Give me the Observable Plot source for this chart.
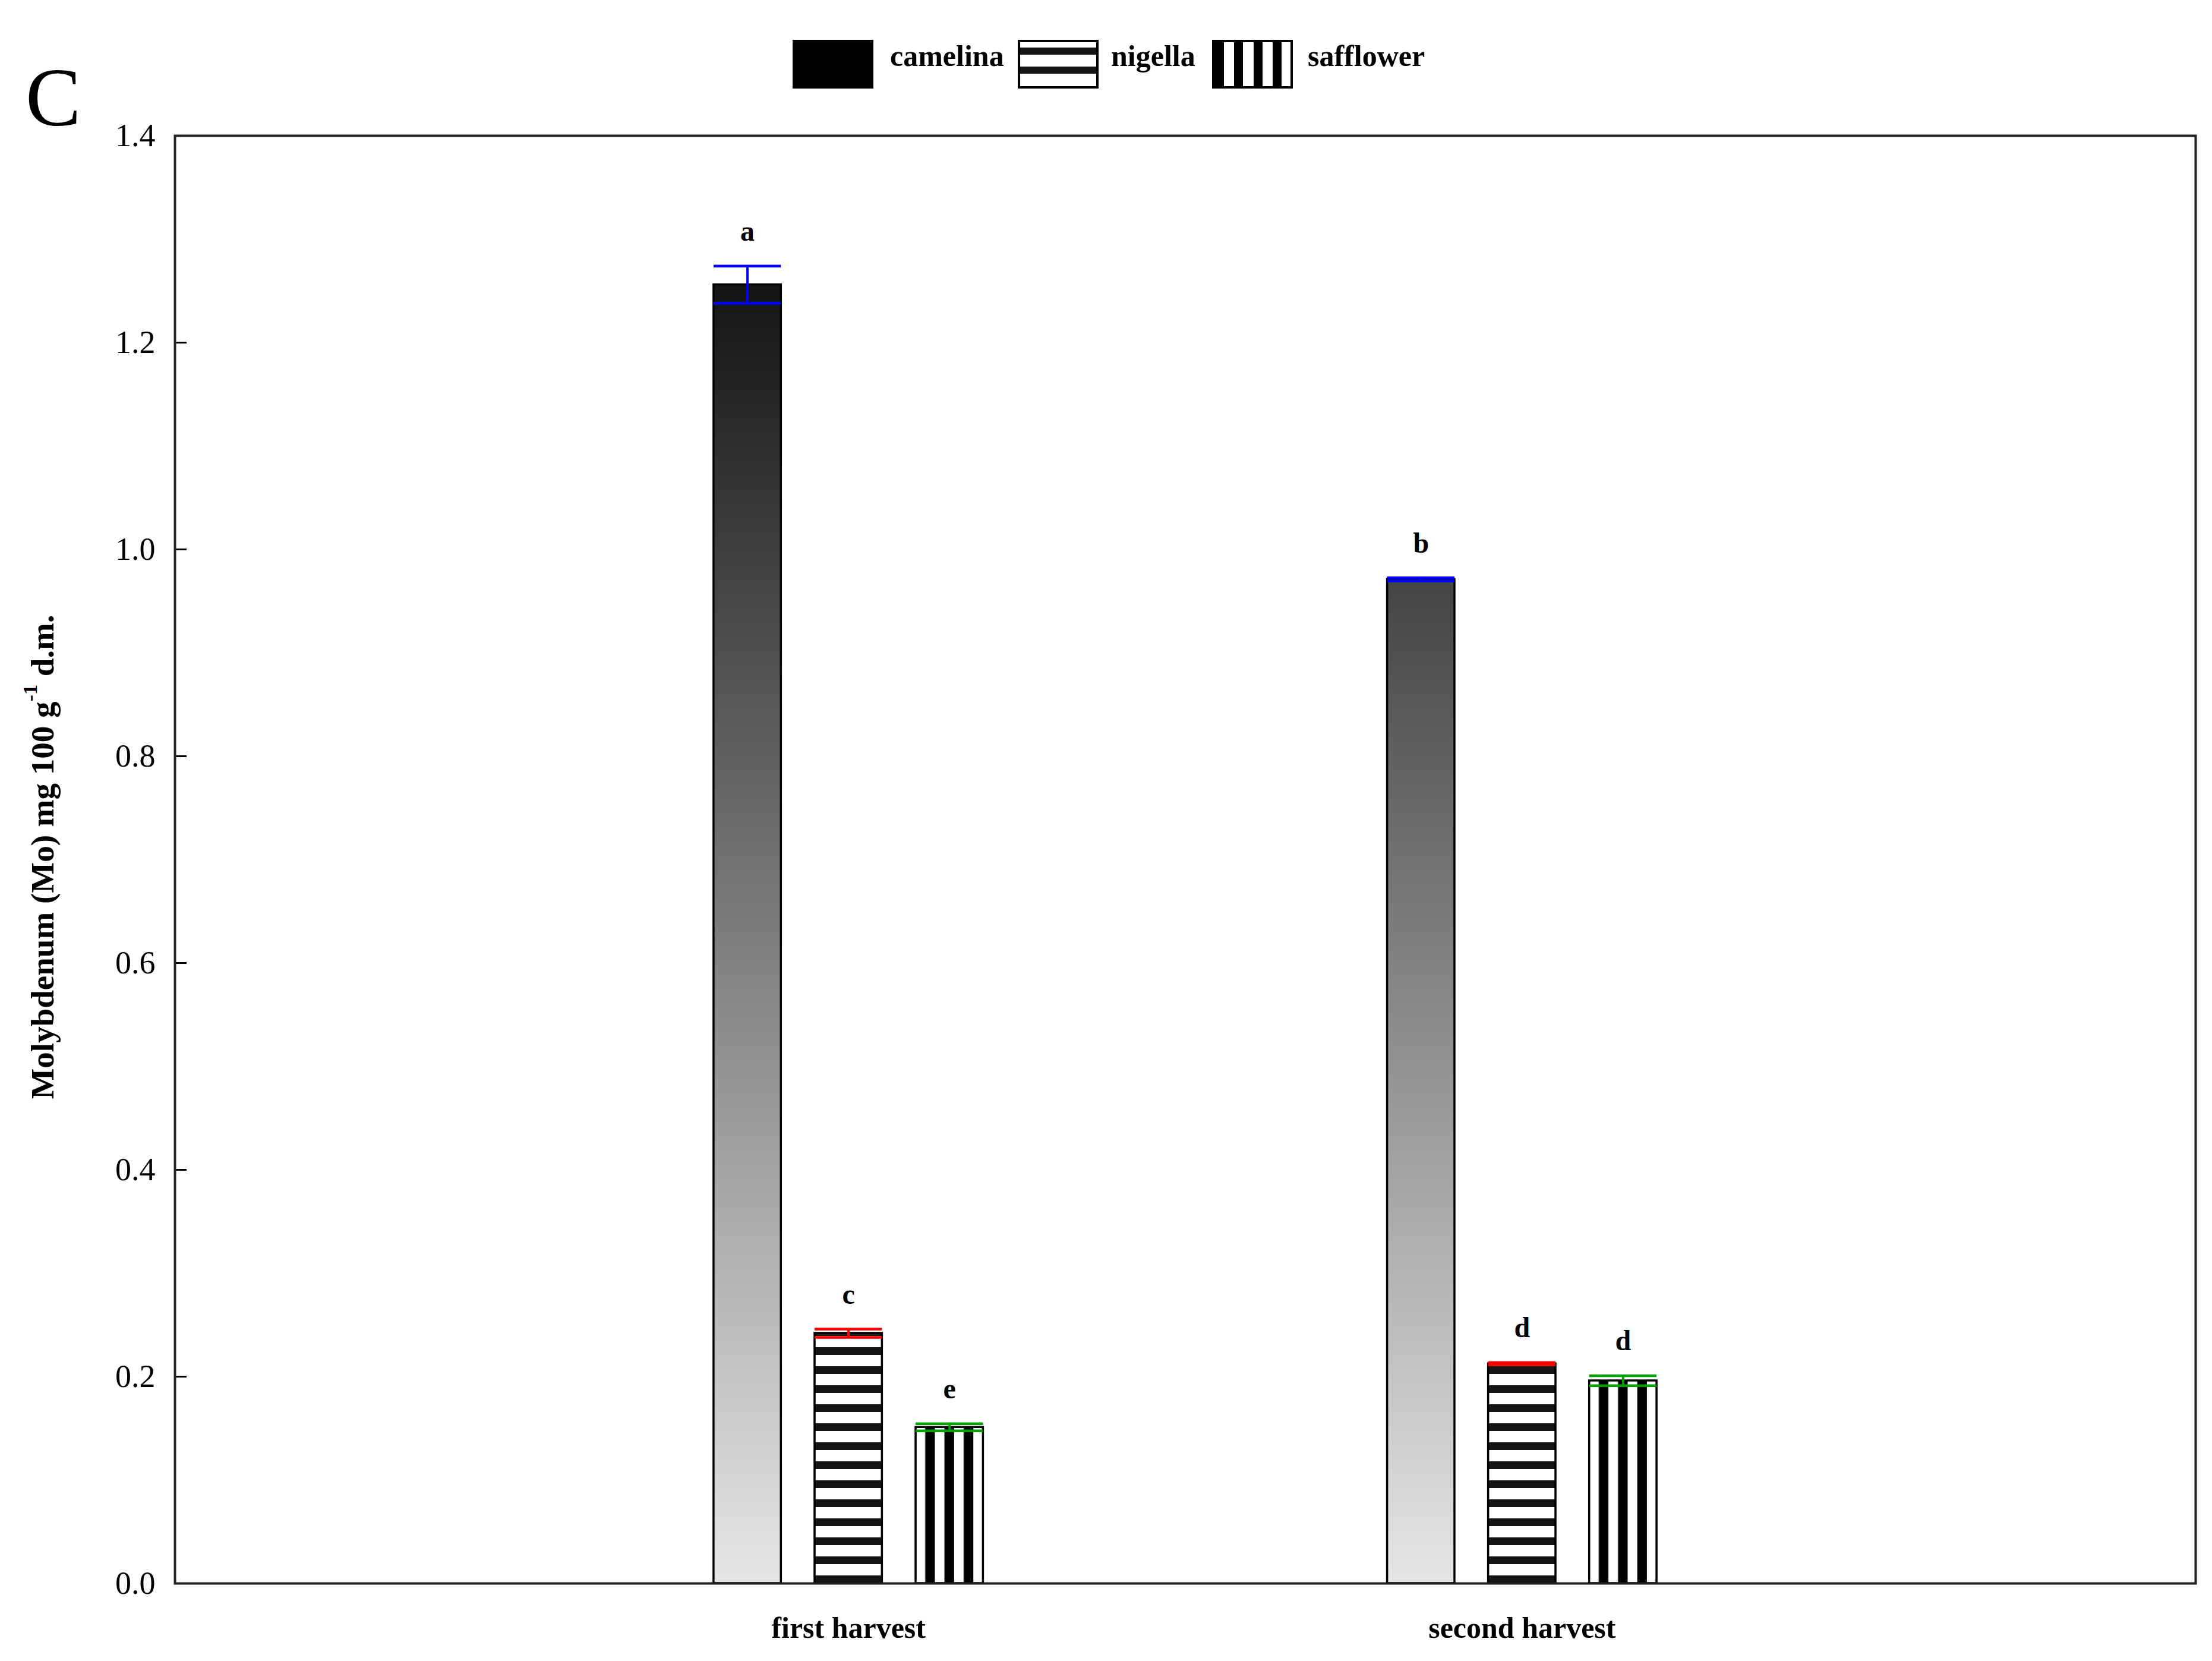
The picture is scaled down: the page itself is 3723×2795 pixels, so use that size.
<!DOCTYPE html>
<html>
<head>
<meta charset="utf-8">
<script src="https://cdn.jsdelivr.net/npm/d3@7"></script>
<script src="https://cdn.jsdelivr.net/npm/@observablehq/plot@0.6"></script>
<style>
  html, body { margin: 0; padding: 0; background: #fff; }
  svg { display: block; }
</style>
</head>
<body>
<div id="chart"></div>
<script>
// ---------------- data ----------------
const harvests = ["first harvest", "second harvest"];
const crops = ["camelina", "nigella", "safflower"];
const camelina = [1.256, 0.971];
const nigella = [0.242, 0.2125];
const safflower = [0.151, 0.196];
const camelinaErr = [0.018, 0.0015];
const nigellaErr = [0.004, 0.0012];
const safflowerErr = [0.0035, 0.0048];
const camelinaLetters = ["a", "b"];
const nigellaLetters = ["c", "d"];
const safflowerLetters = ["e", "d"];
const yTicks = [0, 0.2, 0.4, 0.6, 0.8, 1.0, 1.2, 1.4];
const xTicks = [1, 2];
const yLabel = ["Molybdenum (Mo) mg 100 g", "-1", " d.m."];
const panelLetter = "C";

// table built from the arrays
const series = {
  camelina: {v: camelina, e: camelinaErr, l: camelinaLetters},
  nigella: {v: nigella, e: nigellaErr, l: nigellaLetters},
  safflower: {v: safflower, e: safflowerErr, l: safflowerLetters}
};
const rows = harvests.flatMap((h, hi) => crops.map((c, ci) => ({
  harvest: h, crop: c, hi, ci,
  value: series[c].v[hi], err: series[c].e[hi], letter: series[c].l[hi]
})));

// ---------------- styles ----------------
const FONT = "'Liberation Serif', 'DejaVu Serif', serif";
const PITCH = 0.15, HALF = 0.05;
const cx = d => d.hi + 1 + (d.ci - 1) * PITCH;
const style = {
  camelina: {fill: "url(#camGrad)", err: "#0000ff"},
  nigella: {fill: "url(#hStripe)", err: "#ff0000"},
  safflower: {fill: "url(#vStripe)", err: "#00a000"}
};

const marks = [];
for (const c of crops) {
  const data = rows.filter(d => d.crop === c);
  marks.push(Plot.rect(data, {
    x1: d => cx(d) - HALF, x2: d => cx(d) + HALF, y1: 0, y2: "value",
    fill: style[c].fill, stroke: "#000", strokeWidth: 3.5
  }));
}
for (const c of crops) {
  const data = rows.filter(d => d.crop === c);
  const s = style[c].err;
  marks.push(Plot.ruleX(data, {x: cx, y1: d => d.value - d.err, y2: d => d.value + d.err, stroke: s, strokeWidth: 4}));
  marks.push(Plot.ruleY(data, {y: d => d.value + d.err, x1: d => cx(d) - HALF, x2: d => cx(d) + HALF, stroke: s, strokeWidth: 4.5}));
  marks.push(Plot.ruleY(data, {y: d => d.value - d.err, x1: d => cx(d) - HALF, x2: d => cx(d) + HALF, stroke: s, strokeWidth: 4.5}));
}
marks.push(Plot.text(rows, {
  x: cx, y: d => d.value + d.err, text: "letter", dy: -58,
  fontSize: 48, fontWeight: "bold", fontFamily: FONT, fill: "#000"
}));
marks.push(Plot.axisY(yTicks, {
  anchor: "left", tickSize: -20, tickPadding: 53, tickFormat: d3.format(".1f"),
  fontSize: 54, fontFamily: FONT, label: null, strokeWidth: 3
}));
marks.push(Plot.axisX(xTicks, {
  anchor: "bottom", tickSize: 0, tickPadding: 56, tickFormat: d => harvests[d - 1],
  fontSize: 50, fontWeight: "bold", fontFamily: FONT, label: null
}));
marks.push(Plot.frame({stroke: "#222", strokeWidth: 4}));

const chart = Plot.plot({
  width: 3723,
  height: 2795,
  marginTop: 228,
  marginRight: 28,
  marginBottom: 131,
  marginLeft: 294,
  x: {domain: [0, 3]},
  y: {domain: [0, 1.4]},
  style: {background: "#fff", color: "#000", fontFamily: FONT},
  marks
});

// ---------------- paint servers ----------------
const svg = d3.select(chart);
const ys = chart.scale("y");
const y0 = ys.apply(0), yTop = ys.apply(d3.max(camelina));
const defs = svg.insert("defs", ":first-child");
const grad = defs.append("linearGradient").attr("id", "camGrad")
  .attr("gradientUnits", "userSpaceOnUse")
  .attr("x1", 0).attr("x2", 0).attr("y1", y0).attr("y2", yTop);
grad.append("stop").attr("offset", 0).attr("stop-color", "#e6e6e6");
grad.append("stop").attr("offset", 1).attr("stop-color", "#141414");

const hp = defs.append("pattern").attr("id", "hStripe")
  .attr("patternUnits", "userSpaceOnUse")
  .attr("x", 0).attr("y", y0).attr("width", 40).attr("height", 32);
hp.append("rect").attr("width", 40).attr("height", 32).attr("fill", "#fff");
hp.append("rect").attr("y", 19).attr("width", 40).attr("height", 13).attr("fill", "#161616");

const vp = defs.append("pattern").attr("id", "vStripe")
  .attr("patternUnits", "objectBoundingBox")
  .attr("patternContentUnits", "objectBoundingBox")
  .attr("width", 2 / 7).attr("height", 1);
vp.append("rect").attr("width", 2 / 7).attr("height", 1).attr("fill", "#fff");
vp.append("rect").attr("x", 1 / 7).attr("width", 1 / 7).attr("height", 1).attr("fill", "#000");

// ---------------- y axis title ----------------
const yt = svg.append("text")
  .attr("transform", "translate(90,1442) rotate(-90)")
  .attr("text-anchor", "middle")
  .attr("font-family", FONT).attr("font-weight", "bold").attr("font-size", 55)
  .attr("fill", "#000");
yt.append("tspan").text(yLabel[0]);
yt.append("tspan").attr("font-size", 34).attr("dy", -28).text(yLabel[1]);
yt.append("tspan").attr("dy", 28).text(yLabel[2]);

// ---------------- panel letter ----------------
svg.append("text").attr("x", 43).attr("y", 211).attr("text-anchor", "start")
  .attr("font-family", FONT).attr("font-size", 140).attr("fill", "#000")
  .text(panelLetter);

// ---------------- legend ----------------
const legX = [1334, 1713, 2040];
const legTextX = [1498, 1870, 2201];
const sw = 136, sh = 82, sy = 67;
crops.forEach((c, i) => {
  const g = svg.append("g");
  const x = legX[i];
  if (c === "camelina") {
    g.append("rect").attr("x", x).attr("y", sy).attr("width", sw).attr("height", sh).attr("fill", "#000");
  } else if (c === "nigella") {
    g.append("rect").attr("x", x).attr("y", sy).attr("width", sw).attr("height", sh).attr("fill", "#fff");
    [13, 45].forEach(o => g.append("rect").attr("x", x).attr("y", sy + o)
      .attr("width", sw).attr("height", 12).attr("fill", "#161616"));
    g.append("rect").attr("x", x + 2).attr("y", sy + 2).attr("width", sw - 4).attr("height", sh - 4)
      .attr("fill", "none").attr("stroke", "#000").attr("stroke-width", 4);
  } else {
    g.append("rect").attr("x", x).attr("y", sy).attr("width", sw).attr("height", sh).attr("fill", "#fff");
    [[0, 20], [37, 15], [70, 15], [102, 15]].forEach(([o, w]) => g.append("rect")
      .attr("x", x + o).attr("y", sy).attr("width", w).attr("height", sh).attr("fill", "#000"));
    g.append("rect").attr("x", x + 2).attr("y", sy + 2).attr("width", sw - 4).attr("height", sh - 4)
      .attr("fill", "none").attr("stroke", "#000").attr("stroke-width", 4);
  }
  svg.append("text").attr("x", legTextX[i]).attr("y", 111).attr("text-anchor", "start")
    .attr("font-family", FONT).attr("font-weight", "bold").attr("font-size", 50)
    .attr("fill", "#000").text(c);
});

document.getElementById("chart").appendChild(chart);
</script>
</body>
</html>
